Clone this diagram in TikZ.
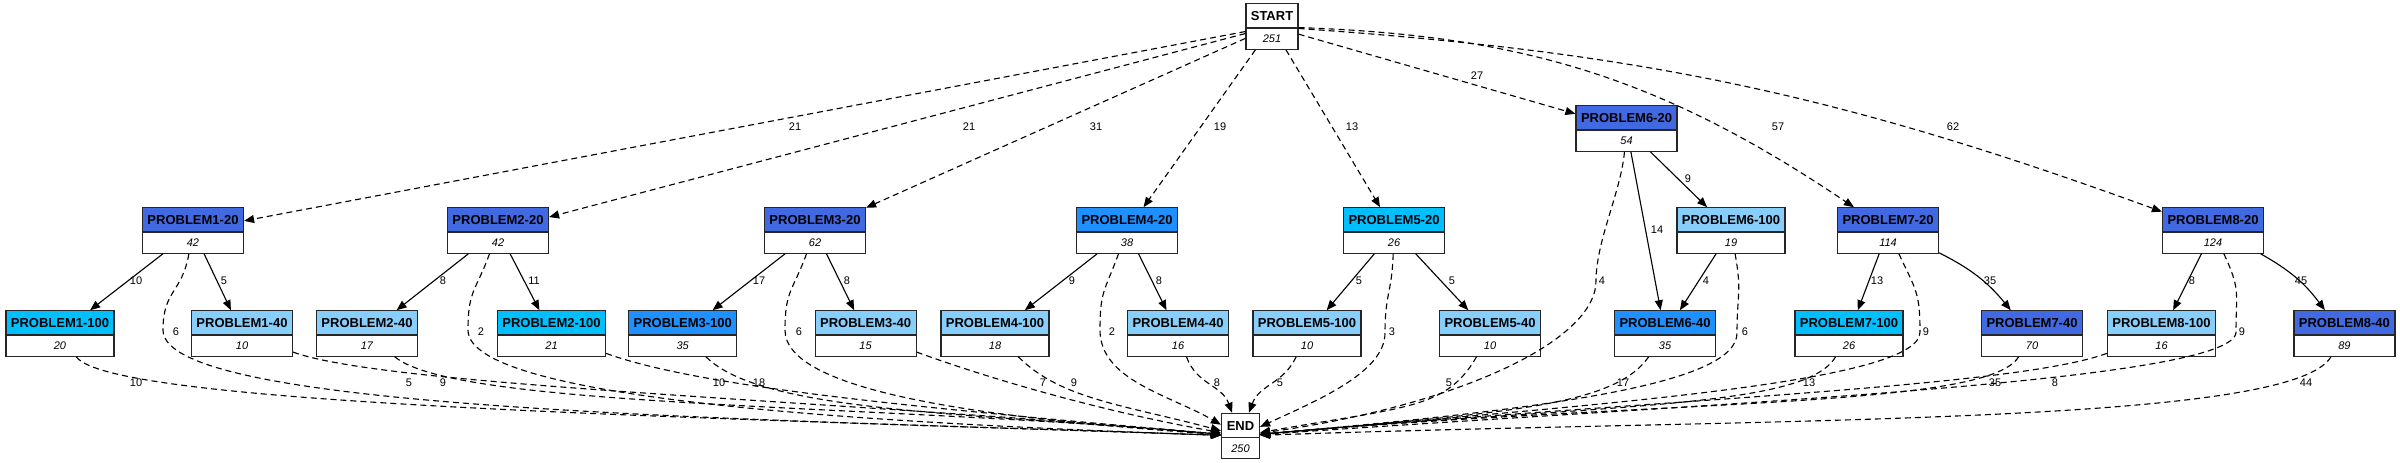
\documentclass[tikz,border=0pt]{standalone}
\usepackage{fontspec}
\newfontfamily\gvfont{Liberation Sans}
\usetikzlibrary{shapes.multipart,arrows.meta}

\definecolor{royal}{RGB}{65,105,225}
\definecolor{dodger}{RGB}{30,144,255}
\definecolor{deepsky}{RGB}{0,191,255}
\definecolor{lightsky}{RGB}{135,206,250}

\newcommand{\headstrut}{\rule[-1.7pt]{0pt}{5.75pt}}
\newcommand{\countstrut}{\rule[-1.5pt]{0pt}{5pt}}
\newcommand{\headfont}{\fontsize{3.25pt}{3.25pt}\selectfont\bfseries}
\newcommand{\numfont}{\fontsize{2.75pt}{2.75pt}\selectfont\itshape}

\tikzset{
  probbox/.style={rectangle split, rectangle split parts=2, draw=black!85,
    line width=0.3pt, inner sep=0pt, align=center, font=\gvfont},
  edgelbl/.style={font=\gvfont\fontsize{2.75pt}{2.75pt}\selectfont, inner sep=0pt},
  flow/.style={draw, line width=0.28pt, -{Triangle[length=2.5pt,width=2pt]}},
  dflow/.style={flow, dash pattern=on 1.5pt off 1pt},
}

\begin{document}
\begin{tikzpicture}[x=0.25pt,y=0.25pt]
  \useasboundingbox (0,0) rectangle (2400,462);
  % name/x/y/width(pt)/fill/title/count
  \def \Nodes{
    start/1272/435.5/13/white/START/251,
    end/1240.5/26/9.5/white/END/250,
    p1x20/193/231.5/25.25/royal/PROBLEM1-20/42,
    p2x20/498/231.5/25.25/royal/PROBLEM2-20/42,
    p3x20/815/231.5/25.25/royal/PROBLEM3-20/62,
    p4x20/1127/231.5/25.25/dodger/PROBLEM4-20/38,
    p5x20/1394/231.5/25.25/deepsky/PROBLEM5-20/26,
    p6x20/1626.5/333.5/25.25/royal/PROBLEM6-20/54,
    p6x100/1731/231.5/27/lightsky/PROBLEM6-100/19,
    p7x20/1888/231.5/25.25/royal/PROBLEM7-20/114,
    p8x20/2213/231.5/25.25/royal/PROBLEM8-20/124,
    p1x100/60/128.5/27/deepsky/PROBLEM1-100/20,
    p1x40/242/128.5/25.25/lightsky/PROBLEM1-40/10,
    p2x40/367/128.5/25.25/lightsky/PROBLEM2-40/17,
    p2x100/551.5/128.5/27/deepsky/PROBLEM2-100/21,
    p3x100/682.7/128.5/27/dodger/PROBLEM3-100/35,
    p3x40/865.6/128.5/25.25/lightsky/PROBLEM3-40/15,
    p4x100/995/128.5/27/lightsky/PROBLEM4-100/18,
    p4x40/1178/128.5/25.25/lightsky/PROBLEM4-40/16,
    p5x100/1307/128.5/27/lightsky/PROBLEM5-100/10,
    p5x40/1490/128.5/25.25/lightsky/PROBLEM5-40/10,
    p6x40/1665/128.5/25.25/dodger/PROBLEM6-40/35,
    p7x100/1849/128.5/27/deepsky/PROBLEM7-100/26,
    p7x40/2032/128.5/25.25/royal/PROBLEM7-40/70,
    p8x100/2161.5/128.5/27/lightsky/PROBLEM8-100/16,
    p8x40/2344.4/128.5/25.25/royal/PROBLEM8-40/89}
  % from/to/style/bend/label/label x/label y
  \def \Links{
    start/p1x20/dflow/0/21/795/335,
    start/p2x20/dflow/0/21/969/335,
    start/p3x20/dflow/0/31/1096/335,
    start/p4x20/dflow/0/19/1220/335,
    start/p5x20/dflow/0/13/1352/335,
    start/p6x20/dflow/0/27/1477/386,
    start/p7x20/dflow/16/57/1778/335,
    start/p8x20/dflow/8/62/1953/335,
    p1x20/p1x100/flow/0/10/136/181,
    p1x20/p1x40/flow/0/5/224/181,
    p2x20/p2x40/flow/0/8/443/181,
    p2x20/p2x100/flow/0/11/534/181,
    p3x20/p3x100/flow/0/17/759/181,
    p3x20/p3x40/flow/0/8/847/181,
    p4x20/p4x100/flow/0/9/1072/181,
    p4x20/p4x40/flow/0/8/1159/181,
    p5x20/p5x100/flow/0/5/1359/181,
    p5x20/p5x40/flow/0/5/1452/181,
    p6x20/p6x40/flow/0/14/1657/232,
    p6x20/p6x100/flow/0/9/1688/283,
    p6x100/p6x40/flow/0/4/1706/181,
    p7x20/p7x100/flow/0/13/1877/181,
    p7x20/p7x40/flow/12/35/1990/181,
    p8x20/p8x100/flow/0/8/2192/181,
    p8x20/p8x40/flow/12/45/2301/181}
  % lower boxes to END: from/out/out distance/in/in distance/label/label x/label y
  \def \Ends{
    p1x100/-55/60/178/500/10/136/79,
    p1x40/-20/100/175/400/5/409/79,
    p2x40/-40/80/175/350/9/443/79,
    p2x100/-20/100/175/300/10/719/79,
    p3x100/-45/80/175/250/18/759/79,
    p3x40/-20/100/170/100/7/1043/79,
    p4x100/-45/60/165/100/9/1074/79,
    p4x40/-70/30/110/30/8/1217/79,
    p5x100/-115/30/70/30/5/1280/79,
    p5x40/-120/60/10/150/5/1449/79,
    p6x40/-125/60/5/250/17/1623/79,
    p7x100/-120/60/5/350/13/1809/79,
    p7x40/-120/60/5/400/35/1995/79,
    p8x100/-160/100/5/400/8/2055/79,
    p8x40/-120/80/2/500/44/2306/79}
  % upper boxes to END, bent down past the lower row:
  % from/out/bend x/bend y/drop/in/in distance/label/label x/label y
  \def \Loops{
    p1x20/-100/163/132/80/178/500/6/176/130,
    p2x20/-110/468/132/70/178/350/2/481/130,
    p3x20/-110/785/132/60/176/250/6/799/130,
    p4x20/-110/1100/132/50/150/60/2/1112/130,
    p5x20/-92/1385/129/40/25/60/3/1392/130,
    p6x20/-95/1596/181/60/8/200/4/1602/181,
    p6x100/-80/1737/129/50/5/300/6/1745/130,
    p7x20/-65/1920/130/50/5/350/9/1926/130,
    p8x20/-65/2236/130/50/4/450/9/2242/130}
  \foreach \id / \x / \y / \w / \c / \t / \n in \Nodes{
    \node[probbox, text width=\w pt, rectangle split part fill={\c,white}] (\id) at (\x,\y)
      {\headstrut\headfont \t\nodepart{two}\countstrut\numfont \n};
  }
  \foreach \s / \d / \st / \b / \lab / \lx / \ly in \Links{
    \path[\st] (\s) to[bend left=\b] (\d);
    \node[edgelbl] (\s-\d) at (\lx,\ly) {\lab};
  }
  \foreach \s / \oa / \od / \ia / \di / \lab / \lx / \ly in \Ends{
    \path[dflow] (\s.\oa) .. controls +(\oa:\od) and +(\ia:\di) .. (end.\ia);
    \node[edgelbl] (\s-end) at (\lx,\ly) {\lab};
  }
  \foreach \s / \oa / \wx / \wy / \da / \ia / \di / \lab / \lx / \ly in \Loops{
    \path[dflow] (\s.\oa) .. controls +(\oa:40) and +(90:40) .. (\wx,\wy)
      .. controls +(-90:\da) and +(\ia:\di) .. (end.\ia);
    \node[edgelbl] (\s-end) at (\lx,\ly) {\lab};
  }
\end{tikzpicture}
\end{document}
